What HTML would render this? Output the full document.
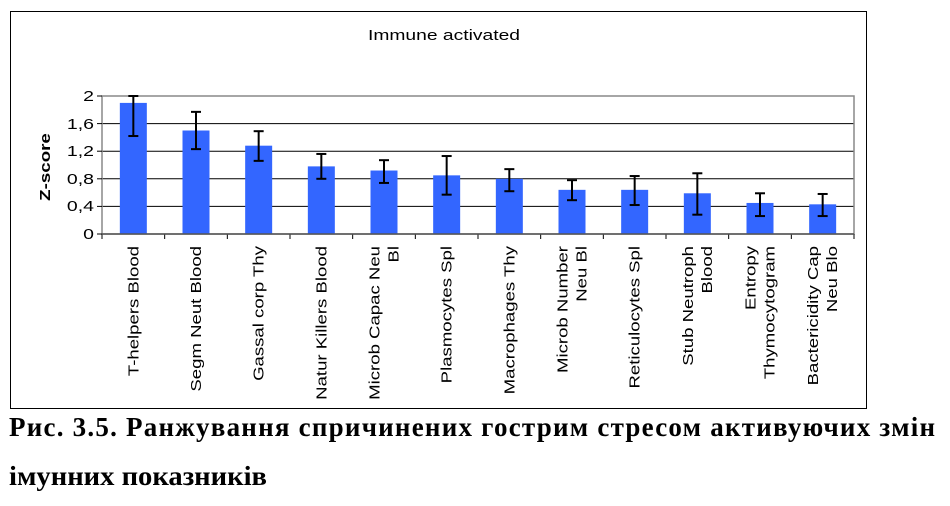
<!DOCTYPE html>
<html><head><meta charset="utf-8"><style>
body{margin:0;background:#fff;width:950px;height:506px;overflow:hidden}
</style></head><body>
<svg width="950" height="506" style="position:absolute;left:0;top:0" font-family="Liberation Sans, sans-serif">
<rect x="10.5" y="11.5" width="856" height="397" fill="#fff" stroke="#000" stroke-width="1"/>
<text x="368" y="40" font-size="15" textLength="152" lengthAdjust="spacingAndGlyphs">Immune activated</text>
<g stroke="#000" stroke-width="1">
<line x1="102" y1="123.6" x2="854" y2="123.6"/>
<line x1="102" y1="151.2" x2="854" y2="151.2"/>
<line x1="102" y1="178.8" x2="854" y2="178.8"/>
<line x1="102" y1="206.4" x2="854" y2="206.4"/>
</g>
<rect x="102" y="96" width="752" height="138" fill="none" stroke="#888" stroke-width="1.5"/>
<g font-size="15" text-anchor="end">
<text transform="translate(94,101) scale(1.3,1)">2</text>
<text transform="translate(94,129) scale(1.3,1)">1,6</text>
<text transform="translate(94,156) scale(1.3,1)">1,2</text>
<text transform="translate(94,184) scale(1.3,1)">0,8</text>
<text transform="translate(94,211) scale(1.3,1)">0,4</text>
<text transform="translate(94,239) scale(1.3,1)">0</text>
</g>
<g stroke="#000" stroke-width="1"><line x1="97" y1="96" x2="102" y2="96"/><line x1="97" y1="123.6" x2="102" y2="123.6"/><line x1="97" y1="151.2" x2="102" y2="151.2"/><line x1="97" y1="178.8" x2="102" y2="178.8"/><line x1="97" y1="206.4" x2="102" y2="206.4"/><line x1="97" y1="234" x2="102" y2="234"/></g>
<text transform="translate(50,167) rotate(-90) scale(1.25,1)" font-size="15" font-weight="bold" text-anchor="middle">Z-score</text>
<g id="bars"></g>
<line x1="102" y1="234" x2="854" y2="234" stroke="#555" stroke-width="1.5"/>
<g id="lab" font-size="15" text-anchor="end"></g>
<g font-family="Liberation Serif, serif" font-weight="bold" font-size="27">
<text x="9" y="436" textLength="926" lengthAdjust="spacing">Рис. 3.5. Ранжування спричинених гострим стресом активуючих змін</text>
<text x="9" y="485" textLength="258" lengthAdjust="spacingAndGlyphs">імунних показників</text>
</g>
</svg>
<script>
var v=[[1.9,2.0,1.42],[1.5,1.77,1.23],[1.28,1.49,1.06],[0.98,1.16,0.8],[0.92,1.07,0.74],[0.85,1.13,0.57],[0.8,0.94,0.62],[0.64,0.78,0.49],[0.64,0.84,0.42],[0.59,0.88,0.28],[0.45,0.59,0.26],[0.43,0.58,0.26]];
var L=[["T-helpers Blood"],["Segm Neut Blood"],["Gassal corp Thy"],["Natur Killers Blood"],["Microb Capac Neu","Bl"],["Plasmocytes Spl"],["Macrophages Thy"],["Microb Number","Neu Bl"],["Reticulocytes Spl"],["Stub Neutroph","Blood"],["Entropy","Thymocytogram"],["Bactericidity Cap","Neu Blo"]];
var ns="http://www.w3.org/2000/svg",g=document.getElementById("bars"),lb=document.getElementById("lab");
function Y(a){return 234-a*69}
function el(t,a,p){var e=document.createElementNS(ns,t);for(var k in a)e.setAttribute(k,a[k]);p.appendChild(e);return e}
var w=752/12;
for(var i=0;i<12;i++){
var c=102+w*(i+0.5);
el("rect",{x:c-13.5,y:Y(v[i][0]),width:27,height:v[i][0]*69,fill:"#3366ff"},g);
el("line",{x1:c,x2:c,y1:Y(v[i][1]),y2:Y(v[i][2]),stroke:"#000","stroke-width":2},g);
el("line",{x1:c-5,x2:c+5,y1:Y(v[i][1]),y2:Y(v[i][1]),stroke:"#000","stroke-width":2},g);
el("line",{x1:c-5,x2:c+5,y1:Y(v[i][2]),y2:Y(v[i][2]),stroke:"#000","stroke-width":2},g);
el("line",{x1:102+w*(i+1),x2:102+w*(i+1),y1:234,y2:239,stroke:"#000"},g);
var n=L[i].length;
for(var j=0;j<n;j++){var x=c+5+(j-(n-1)/2)*19;
var t=el("text",{transform:"translate("+x+",246) rotate(-90) scale(1.24,1)"},lb);t.textContent=L[i][j];}
}
el("line",{x1:102,x2:102,y1:234,y2:239,stroke:"#000"},g);
</script>
</body></html>
